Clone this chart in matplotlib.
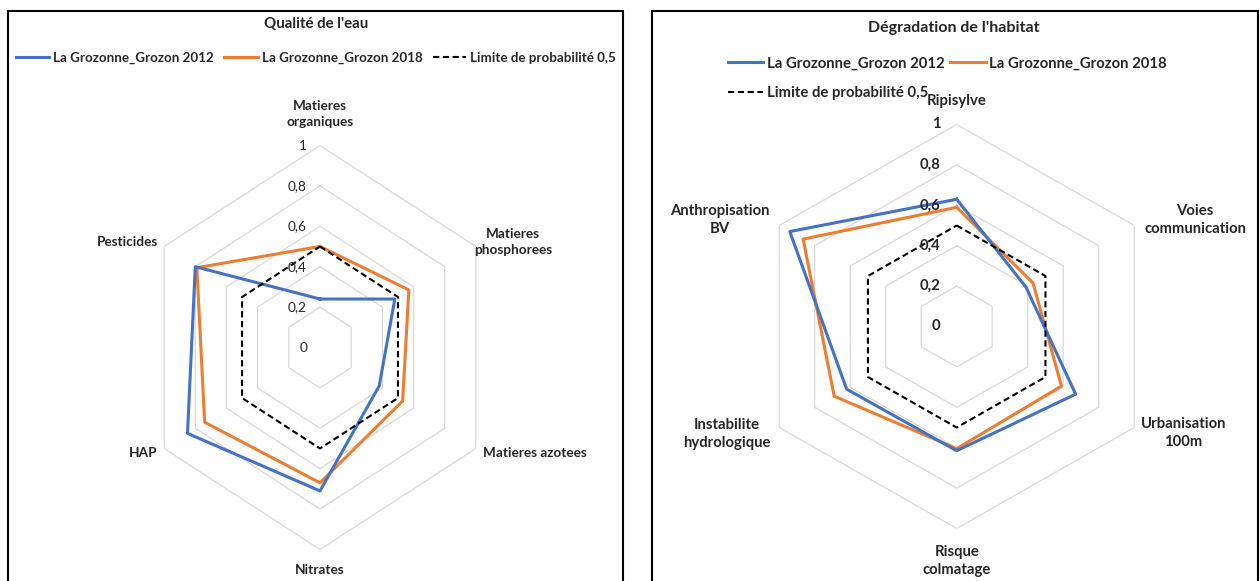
import numpy as np
import matplotlib
matplotlib.use("Agg")
import matplotlib.pyplot as plt
from matplotlib.lines import Line2D
from matplotlib.patches import Rectangle
from matplotlib.transforms import offset_copy

plt.rcParams['font.family'] = ['Lato', 'DejaVu Sans']

# ---- data ----
eau_axes = ['Matieres\norganiques', 'Matieres\nphosphorees', 'Matieres azotees',
            'Nitrates', 'HAP', 'Pesticides']
eau_2012 = [0.24, 0.48, 0.38, 0.71, 0.85, 0.80]
eau_2018 = [0.50, 0.57, 0.53, 0.67, 0.74, 0.79]
eau_limite = [0.5, 0.5, 0.5, 0.5, 0.5, 0.5]

habitat_axes = ['Ripisylve', 'Voies\ncommunication', 'Urbanisation\n100m',
                'Risque\ncolmatage', 'Instabilite\nhydrologique', 'Anthropisation\nBV']
habitat_2012 = [0.63, 0.39, 0.67, 0.615, 0.62, 0.94]
habitat_2018 = [0.59, 0.43, 0.59, 0.605, 0.69, 0.865]
habitat_limite = [0.5, 0.5, 0.5, 0.5, 0.5, 0.5]

ring_values = [0.2, 0.4, 0.6, 0.8, 1.0]
tick_values = [0, 0.2, 0.4, 0.6, 0.8, 1.0]
tick_labels = ['0', '0,2', '0,4', '0,6', '0,8', '1']
series_names = ['La Grozonne_Grozon 2012', 'La Grozonne_Grozon 2018',
                'Limite de probabilité 0,5']

BLUE = '#4472C4'
ORANGE = '#ED7D31'
GRID = '#D9D9D9'
TXT = '#262626'

W, H = 1260, 581
fig = plt.figure(figsize=(W / 100, H / 100), dpi=100)


def px_box(cx, cy, sx, sy):
    # axes box in figure fractions from a centre and radii in pixels
    return [(cx - sx) / W, (H - cy - sy) / H, 2 * sx / W, 2 * sy / H]


def radar(box, labels, s1, s2, lim, label_offsets, tick_dx, tick_weight, fs):
    ax = fig.add_axes(box, projection='polar')
    ax.set_aspect('auto')
    ax.set_theta_zero_location('N')
    ax.set_theta_direction(-1)
    ax.set_ylim(0, 1)
    ax.grid(False)
    ax.set_xticks([])
    ax.set_yticks([])
    ax.spines['polar'].set_visible(False)
    ax.patch.set_alpha(0)

    n = len(labels)
    theta = np.linspace(0, 2 * np.pi, n, endpoint=False)
    th = np.append(theta, theta[0])

    for r in ring_values:
        ax.plot(th, [r] * (n + 1), color=GRID, lw=0.9, zorder=1)

    ax.plot(th, s1 + s1[:1], color=BLUE, lw=2.2, zorder=4)
    ax.plot(th, s2 + s2[:1], color=ORANGE, lw=2.2, zorder=3)
    ax.plot(th, lim + lim[:1], color='black', lw=1.5, ls=(0, (3, 1.7)), zorder=5)

    for v, t in zip(tick_values, tick_labels):
        tr = offset_copy(ax.transData, fig=fig, x=tick_dx, y=0, units='dots')
        ax.text(0, v, t, transform=tr, ha='right', va='center', fontsize=fs,
                color=TXT, fontweight=tick_weight, zorder=6)

    for a, lab, (dx, dy) in zip(theta, labels, label_offsets):
        tr = offset_copy(ax.transData, fig=fig, x=dx, y=dy, units='dots')
        ax.text(a, 1.0, lab, transform=tr, ha='center', va='center', fontsize=fs,
                fontweight='bold', color=TXT, linespacing=1.4)
    return ax


radar(px_box(320, 347.5, 180, 202), eau_axes, eau_2012, eau_2018, eau_limite,
      [(0, 31), (37, 4), (59, -4.5), (0, -20.5), (-21, -4.5), (-37, 4.5)],
      -13, 'normal', 9.8)
radar(px_box(956.7, 326.5, 205, 202), habitat_axes, habitat_2012, habitat_2018,
      habitat_limite,
      [(0, 24), (61, 5.5), (49, -5.5), (0, -32.5), (-52, -6.5), (-59, 5.5)],
      -16, 'bold', 10.7)

# panel frames
for x0, x1 in [(7.5, 622.5), (651.5, 1258)]:
    fig.patches.append(Rectangle((x0 / W, -0.05), (x1 - x0) / W, 1.05 - 11 / H,
                                 transform=fig.transFigure, fill=False,
                                 edgecolor='black', lw=1.5))

fig.text(316 / W, 1 - 24 / H, "Qualité de l'eau", ha='center', va='center',
         fontsize=10.8, fontweight='bold', color=TXT)
fig.text(954 / W, 1 - 28 / H, "Dégradation de l'habitat", ha='center', va='center',
         fontsize=11.5, fontweight='bold', color=TXT)

handles = [Line2D([], [], color=BLUE, lw=2.2),
           Line2D([], [], color=ORANGE, lw=2.2),
           Line2D([], [], color='black', lw=1.5, ls=(0, (3, 1.7)))]

leg1 = fig.legend(handles, series_names, loc='center', bbox_to_anchor=(316 / W, 1 - 58 / H),
                  ncol=3, frameon=False, handlelength=2.5, handletextpad=0.3,
                  columnspacing=0.8, prop={'size': 9.6, 'weight': 'bold'}, borderpad=0)
leg2 = fig.legend([handles[0], handles[2], handles[1]],
                  [series_names[0], series_names[2], series_names[1]],
                  loc='center', bbox_to_anchor=(947.5 / W, 1 - 78 / H), ncol=2,
                  frameon=False, handlelength=2.4, handletextpad=0.25,
                  columnspacing=0.35, labelspacing=1.05,
                  prop={'size': 10.7, 'weight': 'bold'}, borderpad=0)
for lg in (leg1, leg2):
    for t in lg.get_texts():
        t.set_color(TXT)

fig.savefig('out.png', dpi=100)
